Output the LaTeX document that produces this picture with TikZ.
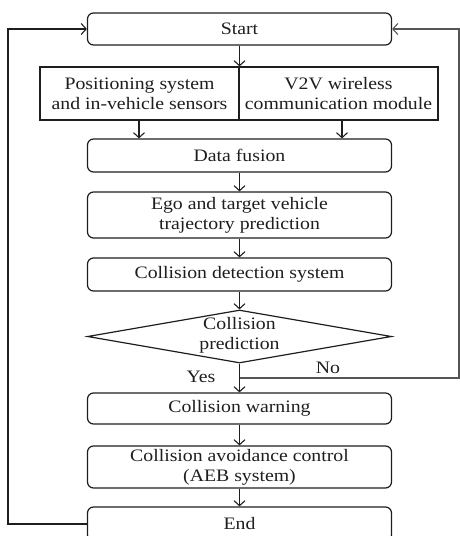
\documentclass[tikz,border=0pt]{standalone}
\usepackage{fontspec}
\setmainfont[FakeStretch=1.13]{Liberation Serif}
\usetikzlibrary{arrows.meta,shapes.geometric}
\definecolor{ink}{HTML}{1E1E1E}
\definecolor{wireink}{HTML}{555555}
\begin{document}
\begin{tikzpicture}[x=1pt,y=-1pt,
  every node/.style={text=ink, font=\fontsize{17.5}{20}\selectfont},
  box/.style={draw=ink, line width=1.2pt, rounded corners=6pt, minimum width=304pt, inner sep=0pt, align=center},
  sq/.style={draw=ink, line width=1.2pt, minimum width=199pt, minimum height=53pt, inner sep=0pt, align=center},
  flow/.style={draw=ink, line width=1.1pt, -{Straight Barb[length=5pt,width=11pt]}},
  loopflow/.style={draw=wireink, line width=1.1pt, -{Straight Barb[length=5pt,width=11pt]}}]
\useasboundingbox (0,0) rectangle (459,536);

\node[box, minimum height=32pt] (start) at (239.5,29) {Start};
\node[sq] (sl) at (139.5,93.5) {Positioning system\\and in-vehicle sensors};
\node[sq] (sr) at (338.5,93.5) {V2V wireless\\communication module};
\node[box, minimum height=33pt] (fusion) at (239.5,155.5) {Data fusion};
\node[box, minimum height=46pt] (ego) at (239.5,215) {Ego and target vehicle\\trajectory prediction};
\node[box, minimum height=33pt] (cds) at (239.5,274.5) {Collision detection system};
\node[diamond, draw=ink, line width=1.2pt, minimum width=304pt, minimum height=53pt, inner sep=0pt] (dia) at (239.5,336.5) {};
\node[align=center] (diatext) at (239.5,335) {Collision\\prediction};
\node[box, minimum height=31pt] (warn) at (239.5,408.5) {Collision warning};
\node[box, minimum height=42pt] (aeb) at (239.5,467) {Collision avoidance control\\(AEB system)};
\node[box, minimum height=34pt] (end) at (239.5,524) {End};

\node (yes) at (201,377) {Yes};
\node (no) at (328,368) {No};

\coordinate (split) at (239.5,378);
\coordinate (rc) at (459,378);
\coordinate (lc) at (8,524);

\draw[flow] (start.south) -- (start.south |- sl.north);
\draw[flow] ([xshift=-0.5pt]sl.south) -- ([xshift=-0.5pt]sl.south |- fusion.north);
\draw[flow] ([xshift=3.5pt]sr.south) -- ([xshift=3.5pt]sr.south |- fusion.north);
\draw[flow] (fusion) -- (ego);
\draw[flow] (ego) -- (cds);
\draw[flow] (cds.south) -- (dia.north);
\draw[flow] (dia.south) -- (warn.north);
\draw[flow] (warn) -- (aeb);
\draw[flow] (aeb) -- (end);
\draw[loopflow] (split) -- (rc) -- (rc |- start.east) -- (start.east);
\draw[flow] (end.west) -- (lc) -- (lc |- start.west) -- (start.west);
\end{tikzpicture}
\end{document}
